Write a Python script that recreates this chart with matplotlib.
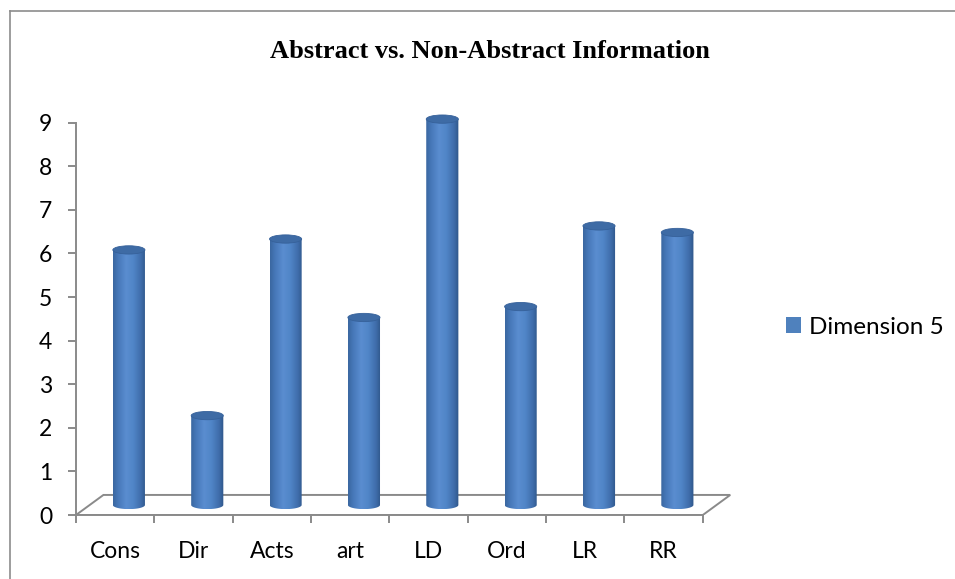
import numpy as np
import matplotlib
matplotlib.use('Agg')
import matplotlib.pyplot as plt
from matplotlib.patches import Ellipse, Polygon, PathPatch, Patch
from matplotlib.path import Path
from matplotlib.colors import LinearSegmentedColormap
from matplotlib.lines import Line2D

categories = ['Cons', 'Dir', 'Acts', 'art', 'LD', 'Ord', 'LR', 'RR']
values = [5.85, 2.05, 6.1, 4.3, 8.85, 4.55, 6.4, 6.25]
series_name = 'Dimension 5'
yticks = list(range(10))
title = 'Abstract vs. Non-Abstract Information'

plt.rcParams['font.family'] = ['Lato', 'DejaVu Sans']

W, H = 955, 579
fig = plt.figure(figsize=(W / 100, H / 100), dpi=100)
fig.patch.set_facecolor('white')

# outer chart frame (left + top visible)
frame_col = '#8c8c8c'
fig.add_artist(Line2D([10 / W, 10 / W], [0, 1 - 11 / H], transform=fig.transFigure,
                      color=frame_col, lw=1.2))
fig.add_artist(Line2D([10 / W, 1.01], [1 - 11 / H, 1 - 11 / H], transform=fig.transFigure,
                      color=frame_col, lw=1.2))

ax = fig.add_axes([76 / W, 64 / H, 666 / W, 414.2 / H])
ax.set_facecolor('none')

DX, DY = 0.35, 0.46          # floor depth offsets
bar_w, ell_h = 0.41, 0.19
axis_col = '#8a8a8a'

# floor
n = len(categories)
floor = Polygon([(-0.5, 0), (n - 0.5, 0), (n - 0.5 + DX, DY), (-0.5 + DX, DY)],
                closed=True, facecolor='none', edgecolor=axis_col, lw=1.4, zorder=1)
ax.add_patch(floor)

cmap = LinearSegmentedColormap.from_list('cyl', [
    (0.0, '#3a67a0'), (0.15, '#4677b8'), (0.4, '#5a8dd0'),
    (0.62, '#5085c7'), (0.85, '#3f6dab'), (1.0, '#2f5688')])
grad = np.linspace(0, 1, 256).reshape(1, -1)

for i, v in enumerate(values):
    cx = i + DX / 2
    y0 = DY / 2
    y1 = v + DY / 2
    t = np.linspace(np.pi, 2 * np.pi, 60)
    xs = cx + bar_w / 2 * np.cos(t)
    ys = y0 + ell_h / 2 * np.sin(t)
    verts = list(zip(xs, ys)) + [(cx + bar_w / 2, y1), (cx - bar_w / 2, y1), (xs[0], ys[0])]
    codes = [Path.MOVETO] + [Path.LINETO] * (len(verts) - 2) + [Path.CLOSEPOLY]
    clip = PathPatch(Path(verts, codes), transform=ax.transData,
                     facecolor='none', edgecolor='none')
    ax.add_patch(clip)
    im = ax.imshow(grad, extent=(cx - bar_w / 2, cx + bar_w / 2, y0 - ell_h / 2, y1),
                   cmap=cmap, aspect='auto', zorder=3, interpolation='bilinear')
    im.set_clip_path(clip)
    top = Ellipse((cx, y1), bar_w, ell_h, facecolor='#3e6ba5', edgecolor='#36619a',
                  lw=0.6, zorder=4)
    ax.add_patch(top)

ax.set_xlim(-0.5, 8.0)
ax.set_ylim(0, 9.5)

for s in ['top', 'right']:
    ax.spines[s].set_visible(False)
for s in ['left', 'bottom']:
    ax.spines[s].set_color(axis_col)
    ax.spines[s].set_linewidth(1.4)
ax.spines['left'].set_bounds(0, 9)
ax.spines['bottom'].set_bounds(-0.5, n - 0.5)

ax.set_yticks(yticks)
ax.set_yticklabels([str(t) for t in yticks], fontsize=16.5)
ax.tick_params(axis='y', length=6, width=1.4, color=axis_col, pad=11, labelcolor='black')

ax.set_xticks(np.arange(-0.5, n, 1))
ax.set_xticklabels([])
ax.tick_params(axis='x', which='major', length=6, width=1.4, color=axis_col)
ax.set_xticks(range(n), minor=True)
ax.set_xticklabels(categories, minor=True, fontsize=16.5)
ax.tick_params(axis='x', which='minor', length=0, pad=19, labelcolor='black')

fig.text(490 / W, 1 - 52 / H, title, ha='center', va='center', fontsize=19,
         fontweight='bold', family=['Liberation Serif', 'DejaVu Serif'])

fig.legend(handles=[Patch(facecolor='#4F81BD', edgecolor='none', label=series_name)],
           loc='center left', bbox_to_anchor=(786 / W, 1 - 327 / H), frameon=False,
           fontsize=17.5, handlelength=0.62, handleheight=0.62, handletextpad=0.33,
           borderpad=0, borderaxespad=0)

fig.savefig('out.png', dpi=100, facecolor='white')
